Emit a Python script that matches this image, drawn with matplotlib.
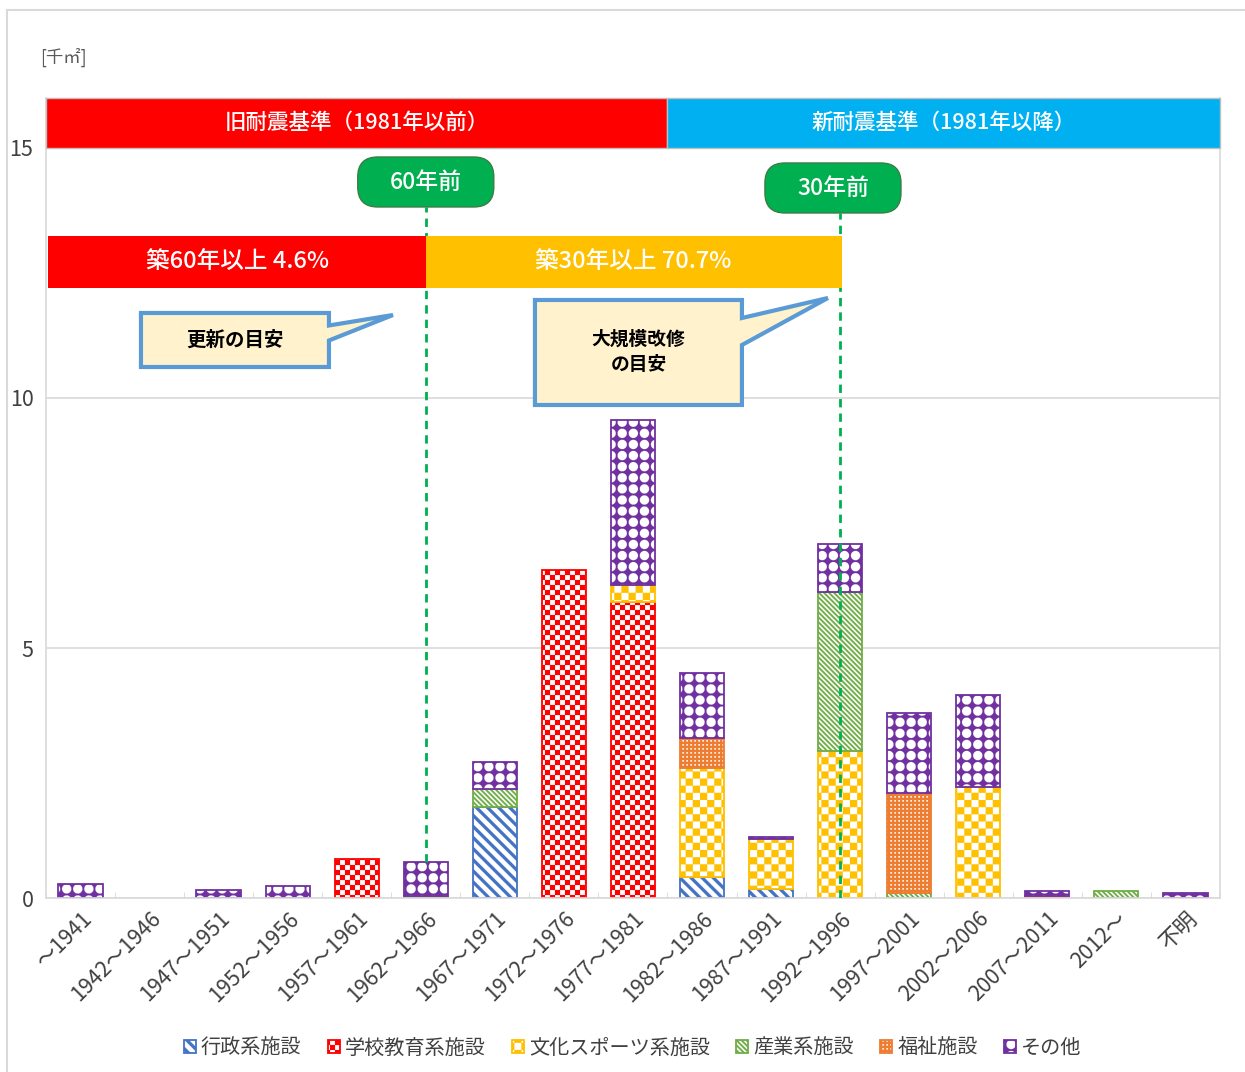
import warnings
import numpy as np
import matplotlib
matplotlib.use("Agg")
import matplotlib.pyplot as plt
import matplotlib.hatch as mhatch
from matplotlib.path import Path
from matplotlib.patches import Rectangle, FancyBboxPatch, Polygon
from matplotlib.lines import Line2D

warnings.filterwarnings("ignore")
plt.rcParams['font.family'] = ['Noto Sans CJK JP', 'DejaVu Sans']
plt.rcParams['hatch.linewidth'] = 0.1

# datos (千㎡)
categorias = ["～1941", "1942～1946", "1947～1951", "1952～1956", "1957～1961",
              "1962～1966", "1967～1971", "1972～1976", "1977～1981", "1982～1986",
              "1987～1991", "1992～1996", "1997～2001", "2002～2006", "2007～2011",
              "2012～", "不明"]
gyosei = [0, 0, 0, 0, 0, 0, 1.82, 0, 0, 0.42, 0.18, 0, 0, 0, 0, 0, 0]
gakko = [0, 0, 0, 0, 0.78, 0, 0, 6.56, 5.92, 0, 0, 0, 0, 0, 0, 0, 0]
bunka = [0, 0, 0, 0, 0, 0, 0, 0, 0.34, 2.18, 1.0, 2.94, 0, 2.22, 0, 0, 0]
sangyo = [0, 0, 0, 0, 0, 0.04, 0.36, 0, 0, 0, 0, 3.18, 0.1, 0, 0, 0.14, 0]
fukushi = [0, 0, 0, 0, 0, 0, 0, 0, 0, 0.6, 0, 0, 2.0, 0, 0.04, 0, 0]
sonota = [0.28, 0, 0.16, 0.24, 0, 0.68, 0.54, 0, 3.3, 1.3, 0.04, 0.96, 1.6, 1.84, 0.1, 0, 0.1]

series = [
    ("行政系施設", gyosei, "#4472C4", "b"),
    ("学校教育系施設", gakko, "#FF0000", "r"),
    ("文化スポーツ系施設", bunka, "#FFC000", "y"),
    ("産業系施設", sangyo, "#70AD47", "g"),
    ("福祉施設", fukushi, "#ED7D31", "f"),
    ("その他", sonota, "#7030A0", "p"),
]


# texturas tipo Excel como tramas propias (unidad = 1 pulgada)
def cuadros(n):
    return [[(i / n, j / n), ((i + 1) / n, j / n), ((i + 1) / n, (j + 1) / n), (i / n, (j + 1) / n)]
            for i in range(n) for j in range(n) if (i + j) % 2 == 0]


def rayas(n, ancho):
    out = []
    for k in range(-1, 2 * n + 2):
        c1 = k / n
        c2 = c1 + ancho / n
        out.append([(-1, c1 + 1), (2, c1 - 2), (2, c2 - 2), (-1, c2 + 1)])
    return out


def rejilla(n, ancho):
    out = []
    for j in range(n):
        a = j / n
        b = a + ancho / n
        out.append([(-0.1, a), (1.1, a), (1.1, b), (-0.1, b)])
        out.append([(a, -0.1), (b, -0.1), (b, 1.1), (a, 1.1)])
    return out


def estrellas(n, radio):
    out = []
    r = radio / n
    t = np.linspace(0, np.pi / 2, 7)
    for i in range(n):
        for j in range(n):
            x0, y0, x1, y1 = i / n, j / n, (i + 1) / n, (j + 1) / n
            pts = [(x0 + r * np.cos(a), y0 + r * np.sin(a)) for a in t[::-1]]
            pts += [(x1 + r * np.cos(a), y0 + r * np.sin(a)) for a in np.pi - t]
            pts += [(x1 + r * np.cos(a), y1 + r * np.sin(a)) for a in 1.5 * np.pi - t]
            pts += [(x0 + r * np.cos(a), y1 + r * np.sin(a)) for a in 2 * np.pi - t]
            out.append(pts)
    return out


TEXTURAS = {
    "r": lambda: cuadros(20),
    "y": lambda: cuadros(14),
    "b": lambda: rayas(9, 0.4),
    "g": lambda: rayas(20, 0.5),
    "f": lambda: rejilla(25, 0.55),
    "p": lambda: estrellas(9, 0.43),
}


class Textura(mhatch.HatchPatternBase):
    letra = ""

    def __init__(self, hatch, density):
        polys = TEXTURAS[self.letra]() if self.letra in hatch else []
        v, c = [], []
        for p in polys:
            v += list(p) + [p[0]]
            c += [Path.MOVETO] + [Path.LINETO] * (len(p) - 1) + [Path.CLOSEPOLY]
        self.verts = np.array(v, float).reshape(-1, 2)
        self.codes = np.array(c, dtype=Path.code_type)
        self.num_vertices = len(v)

    def set_vertices_and_codes(self, vertices, codes):
        vertices[:] = self.verts
        codes[:] = self.codes


mhatch._validate_hatch_pattern = lambda hatch: None
for letra in TEXTURAS:
    mhatch._hatch_types.append(type("Textura_" + letra, (Textura,), {"letra": letra}))

fig = plt.figure(figsize=(12.45, 10.72), dpi=100)
ax = fig.add_axes([0.0369, 0.1623, 0.9430, 0.7463])

x = np.arange(len(categorias))
base = np.zeros(len(categorias))
for nombre, valores, color, patron in series:
    v = np.array(valores, float)
    m = v > 0
    ax.bar(x[m], v[m], 0.64, bottom=base[m], color="white", edgecolor=color,
           hatch=patron, linewidth=1.3, label=nombre, zorder=2)
    base += v

ax.set_xlim(-0.5, 16.5)
ax.set_ylim(0, 16)
ax.set_yticks([0, 5, 10, 15])
ax.yaxis.grid(True, color="#D9D9D9", linewidth=1.2)
ax.set_axisbelow(True)
for lado in ["left", "right", "bottom"]:
    ax.spines[lado].set_color("#D9D9D9")
    ax.spines[lado].set_linewidth(1.2)
ax.spines["top"].set_visible(False)

ax.set_xticks(x, categorias, rotation=45, ha="right", va="top", rotation_mode="anchor")
ax.set_xticks(np.arange(-0.5, 17, 1), minor=True)
ax.tick_params(axis="x", which="major", length=0, pad=7, labelsize=15.5, labelcolor="#404040")
ax.tick_params(axis="x", which="minor", direction="in", length=4, color="#D9D9D9")
ax.tick_params(axis="y", length=0, pad=9, labelsize=15.5, labelcolor="#404040")

fig.text(0.032, 1 - 57 / 1072, "[千㎡]", va="center", fontsize=12.5, color="#595959")

# bandas de norma sísmica
ax.add_patch(Rectangle((-0.5, 15), 9, 1, fc="#FF0000", ec="#BFBFBF", lw=1, zorder=5, clip_on=False))
ax.add_patch(Rectangle((8.5, 15), 8, 1, fc="#00B0F0", ec="#BFBFBF", lw=1, zorder=5, clip_on=False))
ax.text(4, 15.5, "旧耐震基準（1981年以前）", color="white", fontsize=15.5, fontweight="medium",
        ha="center", va="center", zorder=6)
ax.text(12.5, 15.5, "新耐震基準（1981年以降）", color="white", fontsize=15.5, fontweight="medium",
        ha="center", va="center", zorder=6)

# líneas de 60 y 30 años
verde = "#00B050"
ax.plot([5, 5], [0.72, 13.82], color=verde, ls=(0, (3, 2.2)), lw=2, zorder=4)
ax.plot([11, 11], [0, 13.7], color=verde, ls=(0, (3, 2.2)), lw=2, zorder=4)
for x0, y0, etiqueta in [(4.015, 13.82, "60年前"), (9.911, 13.7, "30年前")]:
    ax.add_patch(FancyBboxPatch((x0, y0), 1.97, 1.0, boxstyle="round,pad=0,rounding_size=0.29",
                                mutation_aspect=1.381, fc=verde, ec="#3A7D44", lw=1, zorder=6))
    ax.text(x0 + 0.985, y0 + 0.5, etiqueta, color="white", fontsize=16.5, fontweight="medium",
            ha="center", va="center", zorder=7)

# bandas de antigüedad
ax.add_patch(Rectangle((-0.47, 12.2), 5.47, 1.04, fc="#FF0000", ec="none", zorder=5))
ax.add_patch(Rectangle((5, 12.2), 6.02, 1.04, fc="#FFC000", ec="none", zorder=5))
ax.text(2.27, 12.72, "築60年以上 4.6%", color="white", fontsize=17, fontweight="medium",
        ha="center", va="center", zorder=6)
ax.text(8.01, 12.72, "築30年以上 70.7%", color="white", fontsize=17, fontweight="medium",
        ha="center", va="center", zorder=6)

# globos
globo1 = [(0.876, 10.62), (3.598, 10.62), (3.598, 11.15), (4.525, 11.66),
          (3.598, 11.45), (3.598, 11.70), (0.876, 11.70)]
globo2 = [(6.581, 9.86), (9.578, 9.86), (9.578, 11.06), (10.823, 12.0),
          (9.578, 11.6), (9.578, 11.96), (6.581, 11.96)]
for g in [globo1, globo2]:
    ax.add_patch(Polygon(g, closed=True, fc="#FFF2CC", ec="#5B9BD5", lw=3, joinstyle="miter", zorder=6))
ax.text(2.237, 11.16, "更新の目安", fontsize=14, fontweight="bold", ha="center", va="center", zorder=7)
ax.text(8.08, 10.92, "大規模改修\nの目安", fontsize=13.5, fontweight="bold", ha="center", va="center",
        linespacing=1.45, zorder=7)

fig.legend(loc="center", bbox_to_anchor=(0.508, 0.0224), ncol=6, frameon=False, fontsize=14.5,
           handlelength=0.6, handleheight=0.6, handletextpad=0.25, columnspacing=1.3,
           labelcolor="#404040")

# marco exterior
fig.add_artist(Line2D([7 / 1245, 7 / 1245], [0, 1 - 10 / 1072], transform=fig.transFigure, color="#D9D9D9", lw=1.5))
fig.add_artist(Line2D([7 / 1245, 1], [1 - 10 / 1072, 1 - 10 / 1072], transform=fig.transFigure, color="#D9D9D9", lw=1.5))

plt.savefig("out.png", dpi=100)
